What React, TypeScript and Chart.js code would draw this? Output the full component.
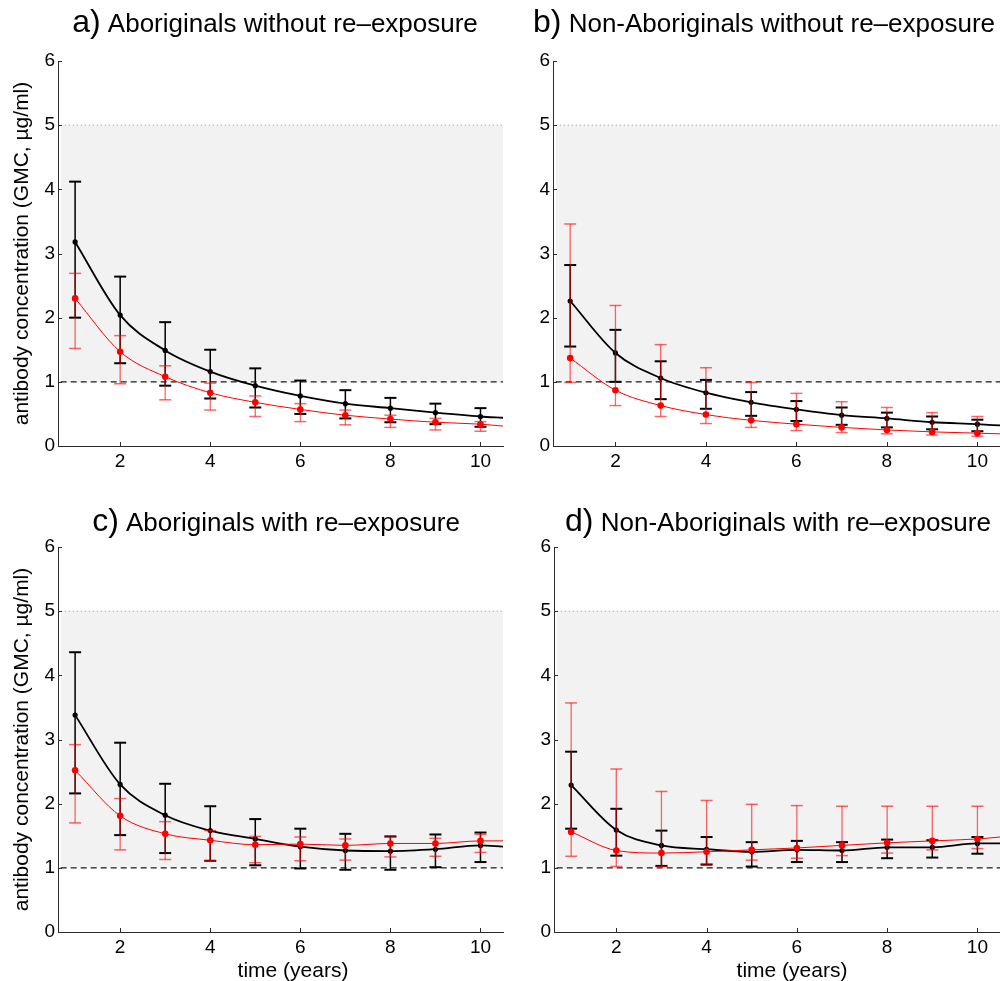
import React, { useEffect, useRef } from "react";
import { Chart, registerables } from "chart.js";

Chart.register(...registerables);

const FONT = '"Liberation Sans", Arial, Helvetica, sans-serif';
const PAGE_W = 1000;
const PAGE_H = 981;
const CANVAS_W = 1100; // wider than the page so right-hand panels can reach the page edge

// ---------- data ----------
const YEARS = [1, 2, 3, 4, 5, 6, 7, 8, 9, 10];
const CURVE_YEARS = [1, 2, 3, 4, 5, 6, 7, 8, 9, 10, 10.5];
const X_TICKS = [2, 4, 6, 8, 10];
const Y_TICKS = [0, 1, 2, 3, 4, 5, 6];
const X_MIN = 0.62;
const X_MAX = 10.5;
const Y_MIN = 0;
const Y_MAX = 6;
const BAND_LOW = 1;
const BAND_HIGH = 5;
const BAND_X = [0.68, 10.5];

const Y_LABEL = "antibody concentration (GMC, µg/ml)";
const X_LABEL = "time (years)";

// a) Aboriginals without re-exposure
const A_BLACK = [3.18, 2.04, 1.49, 1.16, 0.94, 0.78, 0.66, 0.59, 0.52, 0.46, 0.44];
const A_BLACK_HI = [4.12, 2.64, 1.93, 1.5, 1.21, 1.02, 0.87, 0.75, 0.66, 0.59];
const A_BLACK_LO = [2.0, 1.29, 0.94, 0.74, 0.6, 0.5, 0.43, 0.37, 0.34, 0.3];
const A_RED = [2.3, 1.47, 1.08, 0.83, 0.68, 0.57, 0.48, 0.42, 0.37, 0.34, 0.31];
const A_RED_HI = [2.69, 1.72, 1.25, 0.98, 0.78, 0.66, 0.56, 0.48, 0.43, 0.38];
const A_RED_LO = [1.52, 0.97, 0.72, 0.56, 0.46, 0.38, 0.33, 0.29, 0.25, 0.23];

// b) Non-Aboriginals without re-exposure
const B_BLACK = [2.26, 1.45, 1.06, 0.83, 0.68, 0.57, 0.48, 0.43, 0.37, 0.34, 0.32];
const B_BLACK_HI = [2.82, 1.81, 1.32, 1.03, 0.84, 0.7, 0.6, 0.52, 0.46, 0.41];
const B_BLACK_LO = [1.55, 1.0, 0.73, 0.58, 0.47, 0.39, 0.33, 0.29, 0.26, 0.23];
const B_RED = [1.37, 0.87, 0.63, 0.49, 0.4, 0.34, 0.29, 0.25, 0.22, 0.2, 0.19];
const B_RED_HI = [3.46, 2.19, 1.58, 1.22, 0.99, 0.82, 0.69, 0.6, 0.52, 0.46];
const B_RED_LO = [0.99, 0.63, 0.46, 0.35, 0.29, 0.24, 0.21, 0.19, 0.17, 0.15];

// c) Aboriginals with re-exposure
const C_BLACK = [3.38, 2.3, 1.82, 1.58, 1.45, 1.33, 1.27, 1.26, 1.29, 1.35, 1.33];
const C_BLACK_HI = [4.36, 2.95, 2.31, 1.96, 1.76, 1.61, 1.53, 1.49, 1.52, 1.55];
const C_BLACK_LO = [2.16, 1.51, 1.23, 1.11, 1.04, 0.99, 0.97, 0.97, 1.01, 1.09];
const C_RED = [2.52, 1.81, 1.53, 1.43, 1.36, 1.37, 1.35, 1.38, 1.38, 1.42, 1.42];
const C_RED_HI = [2.92, 2.08, 1.72, 1.58, 1.49, 1.48, 1.45, 1.48, 1.46, 1.52];
const C_RED_LO = [1.7, 1.28, 1.13, 1.11, 1.08, 1.11, 1.12, 1.17, 1.18, 1.24];

// d) Non-Aboriginals with re-exposure
const D_BLACK = [2.29, 1.59, 1.35, 1.29, 1.25, 1.28, 1.27, 1.32, 1.32, 1.38, 1.38];
const D_BLACK_HI = [2.81, 1.92, 1.58, 1.48, 1.4, 1.42, 1.4, 1.44, 1.43, 1.48];
const D_BLACK_LO = [1.61, 1.19, 1.03, 1.05, 1.02, 1.09, 1.09, 1.15, 1.16, 1.22];
const D_RED = [1.56, 1.27, 1.23, 1.25, 1.28, 1.31, 1.35, 1.39, 1.42, 1.45, 1.48];
const D_RED_HI = [3.57, 2.54, 2.19, 2.05, 1.99, 1.97, 1.96, 1.96, 1.96, 1.96];
const D_RED_LO = [1.18, 1.02, 1.02, 1.06, 1.12, 1.15, 1.19, 1.23, 1.28, 1.3];

const PANEL_DATA = {
  a: { letter: "a)", title: "Aboriginals without re–exposure", black: A_BLACK, blackHi: A_BLACK_HI, blackLo: A_BLACK_LO, red: A_RED, redHi: A_RED_HI, redLo: A_RED_LO },
  b: { letter: "b)", title: "Non-Aboriginals without re–exposure", black: B_BLACK, blackHi: B_BLACK_HI, blackLo: B_BLACK_LO, red: B_RED, redHi: B_RED_HI, redLo: B_RED_LO },
  c: { letter: "c)", title: "Aboriginals with re–exposure", black: C_BLACK, blackHi: C_BLACK_HI, blackLo: C_BLACK_LO, red: C_RED, redHi: C_RED_HI, redLo: C_RED_LO },
  d: { letter: "d)", title: "Non-Aboriginals with re–exposure", black: D_BLACK, blackHi: D_BLACK_HI, blackLo: D_BLACK_LO, red: D_RED, redHi: D_RED_HI, redLo: D_RED_LO },
};

// ---------- layout (page pixels) ----------
const Y_AXIS_W = 58;
const X_AXIS_H = 30;
const LAYOUT = {
  a: { left: 58, right: 503, top: 61, bottom: 446, titleX: 275, titleY: 32, yTitle: true, xTitleX: null },
  b: { left: 553, right: 1000, top: 61, bottom: 446, titleX: 764, titleY: 32, yTitle: false, xTitleX: null },
  c: { left: 58, right: 503, top: 547, bottom: 932, titleX: 276, titleY: 531, yTitle: true, xTitleX: 293 },
  d: { left: 554, right: 1000, top: 547, bottom: 932, titleX: 778, titleY: 531, yTitle: false, xTitleX: 792 },
};

// ---------- styles ----------
const AXIS_COLOR = "#2b2b2b";
const BLACK = "#000000";
const RED = "#ff0000";
const RED_BAR = "rgba(255,0,0,0.6)";
const BAND_FILL = "#f2f2f2";

const pts = (xs: number[], ys: number[]) => ys.map((y, i) => ({ x: xs[i], y }));
const bars = (lo: number[], hi: number[]) =>
  YEARS.flatMap((x, i) => [
    { x, y: lo[i] },
    { x, y: hi[i] },
    { x, y: null as any },
  ]);

const decorPlugin = {
  id: "panelDecor",
  afterDraw(chart: any, _args: any, opts: any) {
    const ctx = chart.ctx;
    const { x, y } = chart.scales;
    ctx.save();
    // inward tick marks
    ctx.strokeStyle = AXIS_COLOR;
    ctx.lineWidth = 1;
    ctx.beginPath();
    x.ticks.forEach((t: any) => {
      const px = Math.round(x.getPixelForValue(t.value)) + 0.5;
      ctx.moveTo(px, chart.chartArea.bottom);
      ctx.lineTo(px, chart.chartArea.bottom - 4);
    });
    y.ticks.forEach((t: any) => {
      const py = Math.round(y.getPixelForValue(t.value)) + 0.5;
      ctx.moveTo(chart.chartArea.left, py);
      ctx.lineTo(chart.chartArea.left + 4, py);
    });
    ctx.stroke();

    // title with larger panel letter
    ctx.fillStyle = "#000";
    ctx.textBaseline = "alphabetic";
    ctx.textAlign = "left";
    const letterFont = `32px ${FONT}`;
    const mainFont = `26px ${FONT}`;
    ctx.font = letterFont;
    const w1 = ctx.measureText(opts.letter).width;
    ctx.font = mainFont;
    const rest = " " + opts.title;
    const w2 = ctx.measureText(rest).width;
    const x0 = opts.titleX - (w1 + w2) / 2;
    ctx.font = letterFont;
    ctx.fillText(opts.letter, x0, opts.titleY);
    ctx.font = mainFont;
    ctx.fillText(rest, x0 + w1, opts.titleY);

    // x axis label
    if (opts.xTitleX != null) {
      ctx.font = `21px ${FONT}`;
      ctx.textAlign = "center";
      ctx.fillText(X_LABEL, opts.xTitleX, 977);
    }
    ctx.restore();
  },
};

function buildConfig(key: string) {
  const d = (PANEL_DATA as any)[key];
  const L = (LAYOUT as any)[key];
  const nMarks = YEARS.length;
  return {
    type: "line",
    data: {
      datasets: [
        {
          label: "red",
          data: pts(CURVE_YEARS, d.red),
          borderColor: RED,
          borderWidth: 1,
          backgroundColor: RED,
          pointBackgroundColor: RED,
          pointBorderColor: RED,
          pointBorderWidth: 0,
          pointRadius: (c: any) => (c.dataIndex < nMarks ? 3.3 : 0),
          cubicInterpolationMode: "monotone",
          fill: false,
          order: 1,
        },
        {
          label: "red bars",
          data: bars(d.redLo, d.redHi),
          borderColor: RED_BAR,
          borderWidth: 1.3,
          pointStyle: "line",
          pointRadius: 6,
          pointBorderColor: RED_BAR,
          pointBorderWidth: 1.5,
          spanGaps: false,
          fill: false,
          order: 2,
        },
        {
          label: "black",
          data: pts(CURVE_YEARS, d.black),
          borderColor: BLACK,
          borderWidth: 1.8,
          backgroundColor: BLACK,
          pointBackgroundColor: BLACK,
          pointBorderColor: BLACK,
          pointBorderWidth: 0,
          pointRadius: (c: any) => (c.dataIndex < nMarks ? 2.6 : 0),
          cubicInterpolationMode: "monotone",
          fill: false,
          order: 3,
        },
        {
          label: "black bars",
          data: bars(d.blackLo, d.blackHi),
          borderColor: BLACK,
          borderWidth: 1.5,
          pointStyle: "line",
          pointRadius: 6,
          pointBorderColor: BLACK,
          pointBorderWidth: 2,
          spanGaps: false,
          fill: false,
          order: 4,
        },
        {
          label: "threshold",
          data: BAND_X.map((x) => ({ x, y: BAND_LOW })),
          borderColor: "#1a1a1a",
          borderWidth: 1.2,
          borderDash: [6, 4],
          pointRadius: 0,
          fill: false,
          order: 5,
        },
        {
          label: "band",
          data: BAND_X.map((x) => ({ x, y: BAND_HIGH })),
          borderColor: "#8a8a8a",
          borderWidth: 1,
          borderDash: [1, 3],
          pointRadius: 0,
          fill: { value: BAND_LOW },
          backgroundColor: BAND_FILL,
          order: 6,
        },
      ],
    },
    options: {
      animation: false,
      responsive: false,
      events: [],
      layout: {
        padding: {
          left: L.left - Y_AXIS_W,
          right: CANVAS_W - L.right,
          top: L.top,
          bottom: PAGE_H - L.bottom - X_AXIS_H,
        },
      },
      plugins: {
        legend: { display: false },
        tooltip: { enabled: false },
        title: { display: false },
        panelDecor: {
          letter: d.letter,
          title: d.title,
          titleX: L.titleX,
          titleY: L.titleY,
          xTitleX: L.xTitleX,
        },
      },
      scales: {
        x: {
          type: "linear",
          min: X_MIN,
          max: X_MAX,
          afterBuildTicks: (s: any) => {
            s.ticks = X_TICKS.map((v) => ({ value: v }));
          },
          afterFit: (s: any) => {
            s.height = X_AXIS_H;
          },
          grid: { display: true, drawOnChartArea: false, drawTicks: false },
          border: { display: true, color: AXIS_COLOR, width: 1 },
          ticks: {
            padding: 4,
            color: "#000",
            font: { family: FONT, size: 19 },
            maxRotation: 0,
            autoSkip: false,
          },
        },
        y: {
          type: "linear",
          min: Y_MIN,
          max: Y_MAX,
          afterBuildTicks: (s: any) => {
            s.ticks = Y_TICKS.map((v) => ({ value: v }));
          },
          afterFit: (s: any) => {
            s.width = Y_AXIS_W;
          },
          grid: { display: true, drawOnChartArea: false, drawTicks: false },
          border: { display: true, color: AXIS_COLOR, width: 1 },
          ticks: {
            padding: 3,
            color: "#000",
            font: { family: FONT, size: 19 },
            autoSkip: false,
          },
          title: {
            display: L.yTitle,
            text: Y_LABEL,
            color: "#000",
            font: { family: FONT, size: 21 },
            padding: { top: 10, bottom: 0 },
          },
        },
      },
    },
    plugins: [decorPlugin],
  };
}

function Panel({ panel }: { panel: string }) {
  const ref = useRef<HTMLCanvasElement>(null);
  useEffect(() => {
    if (!ref.current) return;
    const chart = new Chart(ref.current, buildConfig(panel) as any);
    return () => chart.destroy();
  }, [panel]);
  return (
    <canvas
      ref={ref}
      width={CANVAS_W}
      height={PAGE_H}
      style={{ position: "absolute", left: 0, top: 0, width: CANVAS_W, height: PAGE_H }}
    />
  );
}

export default function App() {
  return (
    <div
      style={{
        position: "absolute",
        left: 0,
        top: 0,
        width: PAGE_W,
        height: PAGE_H,
        background: "#fff",
        overflow: "hidden",
      }}
    >
      {["a", "b", "c", "d"].map((p) => (
        <Panel key={p} panel={p} />
      ))}
    </div>
  );
}
